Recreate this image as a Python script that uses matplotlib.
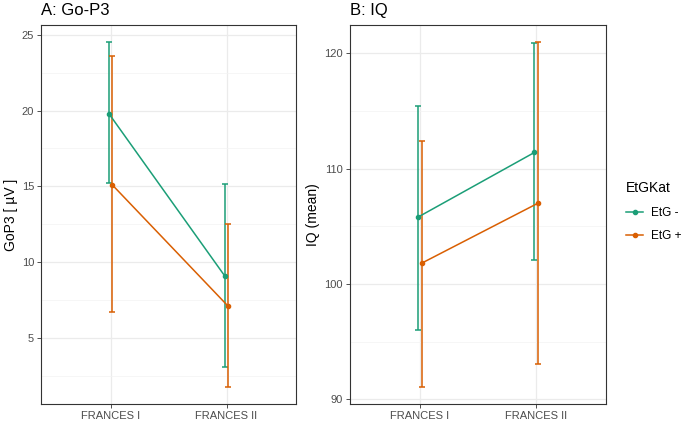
import numpy as np
import matplotlib as mpl
mpl.use('Agg')
import matplotlib.pyplot as plt
from matplotlib.ticker import MultipleLocator

plt.rcParams['font.family'] = ['Liberation Sans', 'DejaVu Sans']

# data
sessions = ['FRANCES I', 'FRANCES II']
groups = ['EtG -', 'EtG +']
colors = {'EtG -': '#1B9E77', 'EtG +': '#D95F02'}

gop3_mean = {'EtG -': [19.8, 9.1], 'EtG +': [15.1, 7.1]}
gop3_low = {'EtG -': [15.2, 3.1], 'EtG +': [6.7, 1.8]}
gop3_high = {'EtG -': [24.5, 15.15], 'EtG +': [23.6, 12.55]}

iq_mean = {'EtG -': [105.8, 111.4], 'EtG +': [101.8, 107.0]}
iq_low = {'EtG -': [96.0, 102.1], 'EtG +': [91.1, 93.1]}
iq_high = {'EtG -': [115.4, 120.85], 'EtG +': [112.4, 120.95]}

dodge = {'EtG -': -0.015, 'EtG +': 0.015}

fig = plt.figure(figsize=(6.85, 4.22), dpi=100)
axA = fig.add_axes([0.0599, 0.0427, 0.3723, 0.898])
axB = fig.add_axes([0.5109, 0.0427, 0.3737, 0.898])

def panel(ax, mean, low, high, title, ylabel, major, minor):
    x0 = np.arange(len(sessions)) + 1
    allv = []
    for g in groups:
        x = x0 + dodge[g]
        m = np.array(mean[g]); lo = np.array(low[g]); hi = np.array(high[g])
        allv += list(lo) + list(hi)
        ax.errorbar(x, m, yerr=[m - lo, hi - m], fmt='none', ecolor=colors[g],
                    elinewidth=1.1, capsize=2.5, capthick=1.1, zorder=3)
        ax.plot(x, m, '-', color=colors[g], lw=1.1, marker='o', ms=3, zorder=4, label=g)
    vmin, vmax = min(allv), max(allv)
    pad = (vmax - vmin) * 0.05
    ax.set_ylim(vmin - pad, vmax + pad)
    ax.set_xlim(0.4, 2.6)
    ax.set_xticks(x0)
    ax.set_xticklabels(sessions)
    ax.yaxis.set_major_locator(MultipleLocator(major))
    ax.yaxis.set_minor_locator(MultipleLocator(minor))
    ax.grid(True, which='major', color='#EBEBEB', lw=0.9, zorder=0)
    ax.grid(True, which='minor', axis='y', color='#F3F3F3', lw=0.5, zorder=0)
    ax.tick_params(axis='y', which='minor', length=0)
    ax.tick_params(which='major', colors='#333333', labelcolor='#4D4D4D', labelsize=8, length=3, width=0.6, pad=2)
    for s in ax.spines.values():
        s.set_color('#333333')
        s.set_linewidth(0.8)
    ax.set_axisbelow(True)
    ax.set_title(title, loc='left', fontsize=12, pad=7)
    ax.set_ylabel(ylabel, fontsize=10, labelpad=3)

panel(axA, gop3_mean, gop3_low, gop3_high, 'A: Go-P3', 'GoP3 [ \u00b5V ]', 5, 2.5)
panel(axB, iq_mean, iq_low, iq_high, 'B: IQ', 'IQ (mean)', 10, 5)

h, l = axB.get_legend_handles_labels()
leg = fig.legend(h, l, title='EtGKat', loc='upper left', bbox_to_anchor=(0.914, 0.572),
                 frameon=False, fontsize=8.5, title_fontsize=10, handlelength=1.45,
                 labelspacing=0.95, handletextpad=0.65, borderpad=0, borderaxespad=0)
leg._legend_box.align = 'left'
leg._legend_box.sep = 9

fig.savefig('out.png', dpi=100)
